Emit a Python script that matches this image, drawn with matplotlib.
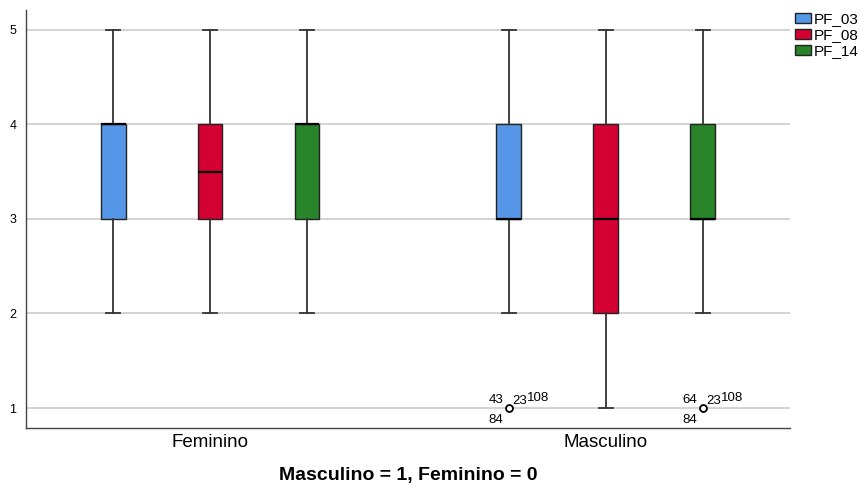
import numpy as np
import matplotlib.pyplot as plt
from matplotlib.patches import Patch

plt.rcParams['font.family'] = ['Liberation Sans', 'DejaVu Sans']

grupos = ['Feminino', 'Masculino']
series = ['PF_03', 'PF_08', 'PF_14']
cores = ['#5597e6', '#d50032', '#288428']

# (whislo, q1, med, q3, whishi, outliers) por grupo e serie
stats = {
    'Feminino': [
        (2, 3, 4, 4, 5, []),
        (2, 3, 3.5, 4, 5, []),
        (2, 3, 4, 4, 5, []),
    ],
    'Masculino': [
        (2, 3, 3, 4, 5, [1]),
        (1, 2, 3, 4, 5, []),
        (2, 3, 3, 4, 5, [1]),
    ],
}
# rotulos dos outliers (casos)
rotulos = {
    ('Masculino', 0): ['43', '23', '108', '84'],
    ('Masculino', 2): ['64', '23', '108', '84'],
}

fig = plt.figure(figsize=(8.66, 4.88), dpi=100)
ax = fig.add_axes([0.030, 0.123, 0.882, 0.857])

desloc = [-0.245, 0.0, 0.245]
for g, grupo in enumerate(grupos):
    for s in range(3):
        wlo, q1, med, q3, whi, fl = stats[grupo][s]
        d = dict(whislo=wlo, q1=q1, med=med, q3=q3, whishi=whi, fliers=fl)
        pos = g + desloc[s]
        ax.bxp([d], positions=[pos], widths=0.063, patch_artist=True,
               boxprops=dict(facecolor=cores[s], edgecolor='#222222', lw=1.0),
               medianprops=dict(color='black', lw=1.6),
               whiskerprops=dict(color='#333333', lw=1.3),
               capprops=dict(color='#333333', lw=1.3),
               capwidths=0.035,
               flierprops=dict(marker='o', markerfacecolor='white',
                               markeredgecolor='black', markersize=5, mew=1.3),
               zorder=3)
        if (grupo, s) in rotulos and fl:
            r = rotulos[(grupo, s)]
            y0 = fl[0]
            ax.text(pos - 0.051, y0 + 0.055, r[0], fontsize=9.5, ha='left', va='baseline')
            ax.text(pos + 0.008, y0 + 0.045, r[1], fontsize=9.5, ha='left', va='baseline')
            ax.text(pos + 0.045, y0 + 0.08, r[2], fontsize=9.5, ha='left', va='baseline')
            ax.text(pos - 0.051, y0 - 0.16, r[3], fontsize=9.5, ha='left', va='baseline')

ax.set_xlim(-0.465, 1.465)
ax.set_ylim(0.79, 5.21)
ax.set_yticks([1, 2, 3, 4, 5])
ax.set_xticks([0, 1])
ax.set_xticklabels(grupos, fontsize=13.5)
ax.tick_params(axis='y', labelsize=9, length=0, pad=7)
ax.tick_params(axis='x', length=0, pad=4)
ax.yaxis.grid(True, color='#cccccc', lw=1.2, zorder=0)
ax.set_axisbelow(True)
for lado in ['top', 'right']:
    ax.spines[lado].set_visible(False)
for lado in ['left', 'bottom']:
    ax.spines[lado].set_color('#444444')
    ax.spines[lado].set_linewidth(1.0)
ax.set_xlabel('Masculino = 1, Feminino = 0', fontsize=14, fontweight='bold', labelpad=12)

handles = [Patch(facecolor=c, edgecolor='#222222', label=n) for c, n in zip(cores, series)]
fig.legend(handles=handles, loc='upper left', bbox_to_anchor=(0.911, 0.987),
           frameon=False, fontsize=11, handlelength=1.05, handleheight=0.6,
           handletextpad=0.2, labelspacing=0.12, borderaxespad=0.0)

plt.savefig('out.png', dpi=100)
